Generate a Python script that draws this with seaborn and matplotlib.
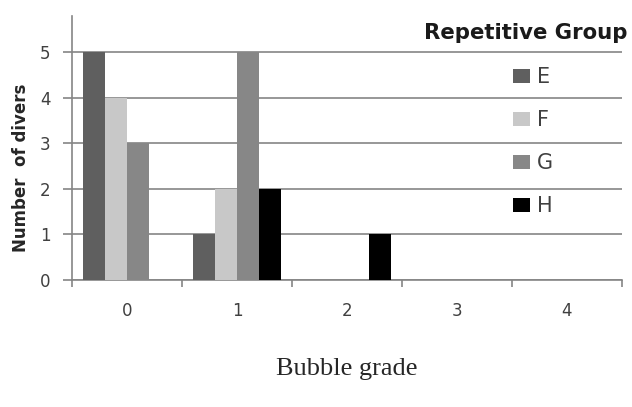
import pandas as pd
import matplotlib
matplotlib.use("Agg")
import matplotlib.pyplot as plt
import seaborn as sns

# Chart data
grades = [0, 1, 2, 3, 4]
groups = ["E", "F", "G", "H"]
count_e = [5, 1, 0, 0, 0]
count_f = [4, 2, 0, 0, 0]
count_g = [3, 5, 0, 0, 0]
count_h = [0, 2, 1, 0, 0]
colors = ["#5f5f5f", "#c8c8c8", "#878787", "#000000"]

# long-form table for seaborn
rows = []
for g, vals in zip(groups, [count_e, count_f, count_g, count_h]):
    for grade, v in zip(grades, vals):
        rows.append({"grade": str(grade), "group": g, "count": v})
df = pd.DataFrame(rows)

sns.set_style("white")
plt.rcParams['font.family'] = ['DejaVu Sans']

fig = plt.figure(figsize=(6.32, 4.07), dpi=100)
ax = fig.add_axes([0.114, 0.312, 0.87, 0.649])

sns.barplot(data=df, x="grade", y="count", hue="group", palette=colors,
            width=0.8, saturation=1, ax=ax, zorder=3, edgecolor="none")

ax.set_xlim(-0.5, 4.5)
ax.set_ylim(0, 5.8)
ax.set_yticks([0, 1, 2, 3, 4, 5])
ax.yaxis.grid(True, color="#858585", linewidth=1.2, zorder=0)
ax.set_axisbelow(True)

for s in ["top", "right"]:
    ax.spines[s].set_visible(False)
for s in ["left", "bottom"]:
    ax.spines[s].set_color("#858585")
    ax.spines[s].set_linewidth(1.2)

# boundary ticks between categories on the x axis
ax.set_xticks([x - 0.5 for x in range(6)], minor=True)
ax.tick_params(axis="x", which="minor", direction="out", length=5,
               width=1.2, color="#858585", bottom=True)
ax.tick_params(axis="x", which="major", length=0, pad=16,
               labelsize=12, labelcolor="#404040")
ax.tick_params(axis="y", which="major", direction="out", length=6.5, width=1.2,
               color="#858585", left=True, pad=9,
               labelsize=12, labelcolor="#404040")

ax.set_ylabel("Number  of divers", fontsize=12, fontweight="bold")
ax.yaxis.set_label_coords(-0.076, 0.424)
ax.set_xlabel("Bubble grade", family="Liberation Serif", fontsize=19,
              labelpad=27)

# legend title as separate text, right aligned like the original
fig.text(628 / 632, 1 - 33 / 407, "Repetitive Group", ha="right", va="center",
         fontsize=15.3, fontweight="bold", color="#1a1a1a")

handles, labels = ax.get_legend_handles_labels()
leg = ax.legend(handles, labels, frameon=False, loc="upper left",
                bbox_to_anchor=(513 / 632, 1 - 67 / 407),
                bbox_transform=fig.transFigure,
                fontsize=15, borderpad=0, borderaxespad=0,
                labelspacing=1.11, handlelength=0.82, handleheight=0.67,
                handletextpad=0.34)
for t in leg.get_texts():
    t.set_color("#404040")

plt.savefig("out.png", dpi=100)
plt.close()
